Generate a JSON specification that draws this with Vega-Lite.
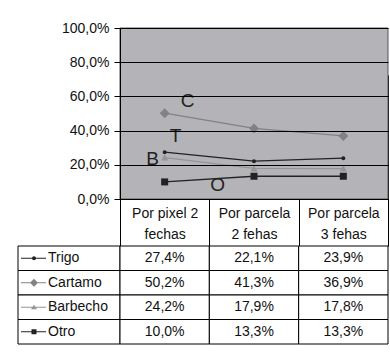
{
  "$schema": "https://vega.github.io/schema/vega-lite/v6.json",
  "background": "white",
  "padding": {"left": 17, "top": 21, "right": 0, "bottom": 0},
  "config": {
    "font": "Liberation Sans",
    "view": {"stroke": null, "fill": null},
    "locale": {"number": {"decimal": ",", "thousands": ".", "grouping": [3], "currency": ["", " €"]}}
  },
  "datasets": {
    "d": [
      {"serie": "Trigo", "col": "Por pixel 2 fechas", "v": 0.274},
      {"serie": "Trigo", "col": "Por parcela 2 fehas", "v": 0.221},
      {"serie": "Trigo", "col": "Por parcela 3 fehas", "v": 0.239},
      {"serie": "Cartamo", "col": "Por pixel 2 fechas", "v": 0.502},
      {"serie": "Cartamo", "col": "Por parcela 2 fehas", "v": 0.413},
      {"serie": "Cartamo", "col": "Por parcela 3 fehas", "v": 0.369},
      {"serie": "Barbecho", "col": "Por pixel 2 fechas", "v": 0.242},
      {"serie": "Barbecho", "col": "Por parcela 2 fehas", "v": 0.179},
      {"serie": "Barbecho", "col": "Por parcela 3 fehas", "v": 0.178},
      {"serie": "Otro", "col": "Por pixel 2 fechas", "v": 0.100},
      {"serie": "Otro", "col": "Por parcela 2 fehas", "v": 0.133},
      {"serie": "Otro", "col": "Por parcela 3 fehas", "v": 0.133}
    ],
    "notes": [
      {"t": "C", "col": "Por pixel 2 fechas", "v": 0.573},
      {"t": "T", "col": "Por pixel 2 fechas", "v": 0.368},
      {"t": "B", "col": "Por pixel 2 fechas", "v": 0.234},
      {"t": "O", "col": "Por pixel 2 fechas", "v": 0.082}
    ]
  },
  "columns": 2,
  "spacing": 0,
  "bounds": "flush",
  "resolve": {"scale": {"shape": "independent"}},
  "concat": [
    {
      "width": 102,
      "height": 218,
      "data": {"values": []},
      "mark": "point"
    },
    {
      "width": 268,
      "height": 218,
      "layer": [
        {
          "data": {"values": [{"a": 1}]},
          "mark": {"type": "rect", "fill": "#b4b4b8", "stroke": "#555", "strokeWidth": 1},
          "encoding": {
            "y": {"datum": 1, "type": "quantitative", "scale": {"domain": [0, 1], "range": [171, 0]}},
            "y2": {"datum": 0}
          }
        },
        {
          "data": {"name": "d"},
          "mark": {"type": "line", "strokeWidth": 1.3},
          "encoding": {
            "x": {"field": "col", "type": "nominal", "sort": ["Por pixel 2 fechas", "Por parcela 2 fehas", "Por parcela 3 fehas"],
              "scale": {"type": "band", "paddingInner": 0, "paddingOuter": 0},
              "axis": {"orient": "bottom", "title": null, "domain": false, "ticks": false, "grid": true, "gridColor": "#000", "gridOpacity": 1, "gridWidth": 1, "tickBand": "extent",
                "labelExpr": "[slice(datum.label,0,11), slice(datum.label,12)]", "labelPadding": -40, "labelBaseline": "top", "labelLineHeight": 21,
                "labelFontSize": 14, "labelColor": "#111", "labelAngle": 0, "labelOverlap": false, "zindex": 0}},
            "y": {"field": "v", "type": "quantitative", "scale": {"domain": [0, 1], "range": [171, 0]},
              "axis": {"values": [0, 0.2, 0.4, 0.6, 0.8, 1], "format": ".1%", "title": null, "grid": true, "gridColor": "#000", "gridOpacity": 1, "gridWidth": 1,
                "domain": true, "domainColor": "#000", "ticks": true, "tickColor": "#000", "tickSize": 6, "labelPadding": 5, "labelFontSize": 14, "labelColor": "#111", "zindex": 1}},
            "color": {"field": "serie", "type": "nominal", "scale": {"domain": ["Trigo", "Cartamo", "Barbecho", "Otro"], "range": ["#222222", "#828282", "#959595", "#222222"]}, "legend": null}
          }
        },
        {
          "data": {"name": "d"},
          "mark": {"type": "point", "filled": true, "opacity": 1, "size": 4},
          "encoding": {
            "x": {"field": "col", "type": "nominal", "sort": ["Por pixel 2 fechas", "Por parcela 2 fehas", "Por parcela 3 fehas"]},
            "y": {"field": "v", "type": "quantitative"},
            "color": {"field": "serie", "type": "nominal", "legend": null},
            "shape": {"field": "serie", "type": "nominal", "legend": null,
              "scale": {"domain": ["Trigo", "Cartamo", "Barbecho", "Otro"],
                "range": ["M-2,0A2,2 0 1,1 2,0A2,2 0 1,1 -2,0Z", "M0,-5L5,0L0,5L-5,0Z", "M0,-3.5L3.5,3L-3.5,3Z", "M-3.5,-3.5H3.5V3.5H-3.5Z"]}}
          }
        },
        {
          "data": {"name": "notes"},
          "transform": [{"filter": "datum.t == 'C'"}],
          "mark": {"type": "text", "fontSize": 19, "color": "#222", "dx": 23, "baseline": "middle"},
          "encoding": {
            "x": {"field": "col", "type": "nominal", "sort": ["Por pixel 2 fechas", "Por parcela 2 fehas", "Por parcela 3 fehas"]},
            "y": {"field": "v", "type": "quantitative"},
            "text": {"field": "t"}
          }
        },
        {
          "data": {"name": "notes"},
          "transform": [{"filter": "datum.t == 'T'"}],
          "mark": {"type": "text", "fontSize": 19, "color": "#222", "dx": 11, "baseline": "middle"},
          "encoding": {
            "x": {"field": "col", "type": "nominal", "sort": ["Por pixel 2 fechas", "Por parcela 2 fehas", "Por parcela 3 fehas"]},
            "y": {"field": "v", "type": "quantitative"},
            "text": {"field": "t"}
          }
        },
        {
          "data": {"name": "notes"},
          "transform": [{"filter": "datum.t == 'B'"}],
          "mark": {"type": "text", "fontSize": 19, "color": "#222", "dx": -12, "baseline": "middle"},
          "encoding": {
            "x": {"field": "col", "type": "nominal", "sort": ["Por pixel 2 fechas", "Por parcela 2 fehas", "Por parcela 3 fehas"]},
            "y": {"field": "v", "type": "quantitative"},
            "text": {"field": "t"}
          }
        },
        {
          "data": {"name": "notes"},
          "transform": [{"filter": "datum.t == 'O'"}],
          "mark": {"type": "text", "fontSize": 19, "color": "#222", "dx": 53, "baseline": "middle"},
          "encoding": {
            "x": {"field": "col", "type": "nominal", "sort": ["Por pixel 2 fechas", "Por parcela 2 fehas", "Por parcela 3 fehas"]},
            "y": {"field": "v", "type": "quantitative"},
            "text": {"field": "t"}
          }
        }
      ]
    },
    {
      "width": 102,
      "height": 98,
      "data": {"name": "d"},
      "transform": [{"filter": "datum.col == 'Por pixel 2 fechas'"}],
      "layer": [
        {
          "mark": {"type": "rect", "fill": "#fff", "stroke": "#000", "strokeWidth": 1},
          "encoding": {"y": {"field": "serie", "type": "nominal", "sort": ["Trigo", "Cartamo", "Barbecho", "Otro"], "scale": {"type": "band", "paddingInner": 0, "paddingOuter": 0}, "axis": null}}
        },
        {
          "mark": {"type": "point", "filled": true, "opacity": 1, "size": 4},
          "encoding": {
            "y": {"field": "serie", "type": "nominal", "sort": ["Trigo", "Cartamo", "Barbecho", "Otro"]},
            "color": {"field": "serie", "type": "nominal", "legend": null},
            "shape": {"field": "serie", "type": "nominal", "legend": null,
              "scale": {"domain": ["Trigo", "Cartamo", "Barbecho", "Otro"],
                "range": [
                  "M-48,-0.6H-23V0.6H-48ZM-37,0A2,2 0 1,1 -33,0A2,2 0 1,1 -37,0Z",
                  "M-48,-0.6H-23V0.6H-48ZM-35,-4L-31,0L-35,4L-39,0Z",
                  "M-48,-0.6H-23V0.6H-48ZM-35,-2.5L-32,2L-38,2Z",
                  "M-48,-0.6H-23V0.6H-48ZM-37.5,-2.5H-32.5V2.5H-37.5Z"
                ]}}
          }
        },
        {
          "mark": {"type": "text", "align": "left", "dx": -21, "fontSize": 14, "color": "#111"},
          "encoding": {
            "y": {"field": "serie", "type": "nominal", "sort": ["Trigo", "Cartamo", "Barbecho", "Otro"]},
            "text": {"field": "serie", "type": "nominal"}
          }
        }
      ]
    },
    {
      "width": 268,
      "height": 98,
      "data": {"name": "d"},
      "encoding": {
        "x": {"field": "col", "type": "nominal", "sort": ["Por pixel 2 fechas", "Por parcela 2 fehas", "Por parcela 3 fehas"], "scale": {"type": "band", "paddingInner": 0, "paddingOuter": 0}, "axis": null},
        "y": {"field": "serie", "type": "nominal", "sort": ["Trigo", "Cartamo", "Barbecho", "Otro"], "scale": {"type": "band", "paddingInner": 0, "paddingOuter": 0}, "axis": null}
      },
      "layer": [
        {"mark": {"type": "rect", "fill": "#fff", "stroke": "#000", "strokeWidth": 1}},
        {"mark": {"type": "text", "fontSize": 14, "color": "#111"}, "encoding": {"text": {"field": "v", "type": "quantitative", "format": ".1%"}}}
      ]
    }
  ]
}
